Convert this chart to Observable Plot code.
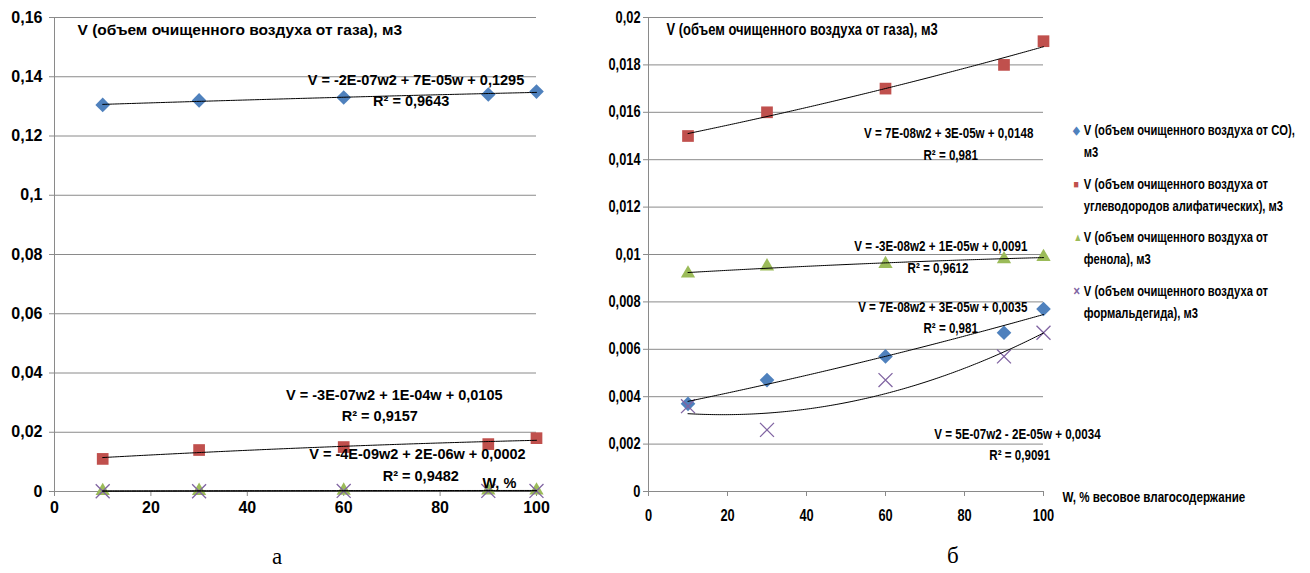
<!DOCTYPE html>
<html><head><meta charset="utf-8">
<script src="https://cdn.jsdelivr.net/npm/d3@7"></script>
<script src="https://cdn.jsdelivr.net/npm/@observablehq/plot@0.6"></script>
<style>
body{margin:0;background:#fff;}
#wrap{position:relative;width:1310px;height:573px;overflow:hidden;background:#fff;}
.panel{position:absolute;top:0;}
.legend{position:absolute;left:1075px;top:119px;font-family:"Liberation Sans",Arial,sans-serif;font-weight:bold;font-size:14px;color:#000;line-height:22px;transform:scaleX(0.8);transform-origin:0 0;width:280px;}
.legend .item{margin-bottom:9.5px;position:relative;padding-left:11px;white-space:nowrap;}
.legend .mk{position:absolute;left:-2px;top:0;font-size:11px;}
.cap{position:absolute;font-family:"Liberation Serif","DejaVu Serif",serif;font-size:23px;color:#000;}
</style></head><body><div id="wrap"></div>
<script>
// ---- data ----
const W = [10, 30, 60, 90, 100];
// panel а
const leftCO      = [0.1305, 0.132, 0.133, 0.134, 0.135];
const leftHC      = [0.011, 0.014, 0.015, 0.016, 0.018];
const leftPhenol  = [0.0002, 0.00025, 0.0003, 0.00035, 0.00035];
const leftFormald = [0.0001, 0.0001, 0.0002, 0.0002, 0.0002];
// panel б
const rightCO      = [0.0037, 0.0047, 0.0057, 0.0067, 0.0077];
const rightHC      = [0.015, 0.016, 0.017, 0.018, 0.019];
const rightPhenol  = [0.0092, 0.0095, 0.0096, 0.0098, 0.0099];
const rightFormald = [0.0036, 0.0026, 0.0047, 0.0057, 0.0067];
// ticks
const xTicks = [0, 20, 40, 60, 80, 100];
const leftYTicks = [0, 0.02, 0.04, 0.06, 0.08, 0.1, 0.12, 0.14, 0.16];
const rightYTicks = [0, 0.002, 0.004, 0.006, 0.008, 0.01, 0.012, 0.014, 0.016, 0.018, 0.02];
// texts
const yTitle = "V (объем очищенного воздуха от газа), м3";
const leftEq = ["V = -2E-07w2 + 7E-05w + 0,1295", "R² = 0,9643",
                "V = -3E-07w2 + 1E-04w + 0,0105", "R² = 0,9157",
                "V = -4E-09w2 + 2E-06w + 0,0002", "R² = 0,9482"];
const rightEq = ["V = 7E-08w2 + 3E-05w + 0,0148", "R² = 0,981",
                 "V = -3E-08w2 + 1E-05w + 0,0091", "R² = 0,9612",
                 "V = 7E-08w2 + 3E-05w + 0,0035", "R² = 0,981",
                 "V = 5E-07w2 - 2E-05w + 0,0034", "R² = 0,9091"];
const leftXLabel = "W, %";
const rightXLabel = "W, % весовое влагосодержание";
const seriesNames = [
  ["V (объем очищенного воздуха от CO),", "м3"],
  ["V (объем очищенного воздуха от", "углеводородов алифатических), м3"],
  ["V (объем очищенного воздуха от", "фенола), м3"],
  ["V (объем очищенного воздуха от", "формальдегида), м3"]
];
const colors = ["#4F81BD", "#C0504D", "#9BBB59", "#8064A2"];
const captions = ["а", "б"];

// ---- helpers ----
function quadFit(xs, ys) {
  let n = xs.length, s1=0,s2=0,s3=0,s4=0,t0=0,t1=0,t2=0;
  for (let i=0;i<n;i++){const x=xs[i],y=ys[i];s1+=x;s2+=x*x;s3+=x**3;s4+=x**4;t0+=y;t1+=x*y;t2+=x*x*y;}
  const M=[[n,s1,s2],[s1,s2,s3],[s2,s3,s4]], R=[t0,t1,t2];
  const det=m=>m[0][0]*(m[1][1]*m[2][2]-m[1][2]*m[2][1])-m[0][1]*(m[1][0]*m[2][2]-m[1][2]*m[2][0])+m[0][2]*(m[1][0]*m[2][1]-m[1][1]*m[2][0]);
  const D=det(M);
  const sol=[0,1,2].map(k=>det(M.map((row,i)=>row.map((v,j)=>j===k?R[i]:v)))/D);
  return w => sol[0]+sol[1]*w+sol[2]*w*w;
}
const rows = ys => W.map((w,i)=>({w, v: ys[i]}));
const trend = ys => { const f = quadFit(W, ys); return d3.range(10, 100.001, 0.5).map(w=>({w, v:f(w)})); };
const fmt = d => d === 0 ? "0" : String(d).replace(".", ",");

const grid = "#8a8a8a";
const sym = ["diamond2", "square", "triangle", "times"];
const rr = [6.6, 6.6, 5.3, 6.4];
const font = "'Liberation Sans', Arial, sans-serif";

function panel(series, yTicks, yMax, o) {
  const marks = [
    Plot.gridY(yTicks, {stroke: grid, strokeOpacity: 1, strokeWidth: 1}),
    Plot.ruleX([0], {stroke: grid, strokeWidth: 1}),
    Plot.ruleY([0], {stroke: grid, strokeWidth: 1}),
    Plot.axisY(yTicks, {tickFormat: fmt, tickSize: 5, tickPadding: o.yPad, stroke: grid, fill: "#000",
      fontSize: o.tickFont, fontWeight: "bold", fontFamily: font, label: null}),
    Plot.axisX(xTicks, {tickSize: 5, tickPadding: o.xPad, stroke: grid, fill: "#000",
      fontSize: o.tickFont, fontWeight: "bold", fontFamily: font, label: null}),
  ];
  series.forEach((ys, i) => {
    const isStroke = sym[i] === "times";
    marks.push(Plot.dot(rows(ys), {x: "w", y: "v", symbol: sym[i], r: rr[i],
      fill: isStroke ? "none" : colors[i], stroke: isStroke ? colors[i] : "none", strokeWidth: isStroke ? 1.3 : 0}));
  });
  series.forEach(ys => marks.push(Plot.line(trend(ys), {x: "w", y: "v", stroke: "#000", strokeWidth: 1})));
  marks.push(Plot.text([yTitle], {frameAnchor: "top-left", dx: o.titleDx, dy: 6, text: d=>d,
    textAnchor: "start", fontSize: o.titleFont, fontWeight: "bold", fontFamily: font, fill: "#000"}));
  o.ann.forEach(a => marks.push(Plot.text([a[0]], {x: a[1], y: a[2], text: d=>d, textAnchor: a[3] || "middle",
    fontSize: o.eqFont, fontWeight: "bold", fontFamily: font, fill: "#000"})));
  return Plot.plot({
    width: o.width, height: o.height,
    marginLeft: o.ml, marginRight: o.mr, marginTop: 17, marginBottom: o.height - 491,
    x: {domain: [0, 100], label: null, axis: null},
    y: {domain: [0, yMax], label: null, axis: null},
    style: {fontFamily: font, background: "transparent", overflow: "visible"},
    marks
  });
}

// horizontally condense every text of a chart, as the narrow typeface of the reference
function condense(svg, f) {
  svg.querySelectorAll("text").forEach(t => {
    const L = t.getComputedTextLength();
    if (L > 0) { t.setAttribute("textLength", (L * f).toFixed(2)); t.setAttribute("lengthAdjust", "spacingAndGlyphs"); }
  });
}

const wrap = document.getElementById("wrap");

const p1 = panel([leftCO, leftHC, leftPhenol, leftFormald], leftYTicks, 0.16, {
  width: 560, height: 521, ml: 54, mr: 24, yPad: 7, xPad: 5, tickFont: 16, titleFont: 15.5, eqFont: 14.5,
  titleDx: 23,
  ann: [[leftEq[0], 75, 0.1387], [leftEq[1], 74, 0.1316],
        [leftEq[2], 70.5, 0.0324], [leftEq[3], 67.5, 0.0253],
        [leftEq[4], 75.3, 0.0125], [leftEq[5], 76, 0.0051],
        [leftXLabel, 92.3, 0.0028]]
});
p1.classList.add("panel"); p1.style.left = "0px";
wrap.appendChild(p1);

const p2 = panel([rightCO, rightHC, rightPhenol, rightFormald], rightYTicks, 0.02, {
  width: 720, height: 531, ml: 58, mr: 267, yPad: 3, xPad: 13, tickFont: 16, titleFont: 16.2, eqFont: 14.5,
  titleDx: 18,
  ann: [[rightEq[0], 76, 0.01511], [rightEq[1], 76.5, 0.01418],
        [rightEq[2], 74, 0.01034], [rightEq[3], 73.3, 0.00941],
        [rightEq[4], 74.5, 0.00776], [rightEq[5], 76.5, 0.00688],
        [rightEq[6], 93.4, 0.0024], [rightEq[7], 94, 0.00152],
        [rightXLabel, 104.8, -0.00025, "start"]]
});
p2.classList.add("panel"); p2.style.left = "590px";
wrap.appendChild(p2);
condense(p2, 0.8);

// legend
const lg = document.createElement("div"); lg.className = "legend";
const mk = ["◆", "■", "▲", "✕"];
seriesNames.forEach((nm, i) => {
  const it = document.createElement("div"); it.className = "item";
  const m = document.createElement("span"); m.className = "mk"; m.textContent = mk[i]; m.style.color = colors[i];
  it.appendChild(m);
  nm.forEach((ln, j) => { const d = document.createElement("div"); d.textContent = ln; it.appendChild(d); });
  lg.appendChild(it);
});
wrap.appendChild(lg);

// captions
[[captions[0], 272, 544], [captions[1], 947, 543]].forEach(c => {
  const d = document.createElement("div"); d.className = "cap"; d.textContent = c[0];
  d.style.left = c[1] + "px"; d.style.top = c[2] + "px"; wrap.appendChild(d);
});
</script></body></html>
